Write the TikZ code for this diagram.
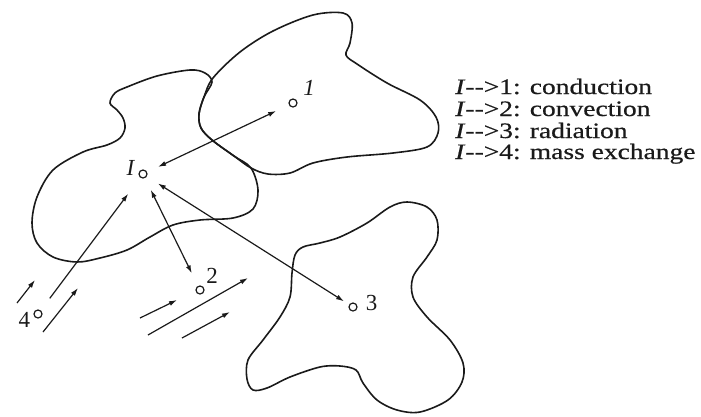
\documentclass[tikz,border=0pt]{standalone}
\usepackage{fontspec}
\setmainfont{Liberation Serif}
\newfontfamily\legendfont{Liberation Serif}[FakeStretch=1.25, FakeBold=0.6]
\usepackage{tikz}
\usetikzlibrary{arrows.meta, positioning}
\definecolor{ink}{HTML}{1A1A1A}
\definecolor{paper}{HTML}{FFFFFF}
\tikzset{
    blob/.style={
        draw=ink, line width=1.6pt
    },
    spot/.style={
        circle, draw=ink, fill=paper, line width=1.2pt,
        inner sep=0pt, minimum size=8pt
    },
    spotlab/.style={
        font=\fontsize{23}{23}\selectfont, text=ink, inner sep=0pt
    },
    heatarrow/.style={
        {Latex[length=8pt,width=5pt]}-{Latex[length=8pt,width=5pt]},
        line width=1.2pt, draw=ink, shorten <=12pt, shorten >=12pt
    },
    inarrow/.style={
        -{Latex[length=8pt,width=5pt]}, line width=1.2pt, draw=ink
    },
    legtext/.style={
        font=\legendfont\fontsize{22}{22}\selectfont, text=ink,
        anchor=base west, inner sep=0pt
    },
}
\begin{document}
\begin{tikzpicture}[x=1pt, y=-1pt]
    \useasboundingbox (0,0) rectangle (701,416);

    % Blob I (left)
    \draw[blob] plot[smooth cycle, tension=0.55] coordinates {
        (110,103) (115,93) (127,87) (157,76) (190,70) (205,73) (212,82)
        (204,97) (199,114) (201,128) (212,140) (234,156) (251,168)
        (258,190) (253,209) (233,218) (200,220) (173,225) (150,237)
        (127,250) (100,258) (77,262) (53,257) (37,243) (32,223) (37,197)
        (53,170) (83,152) (107,145) (120,138) (125,128) (123,118) (117,110)};

    % Blob 1 (top right)
    \draw[blob] plot[smooth cycle, tension=0.55] coordinates {
        (213,78) (240,52) (273,31) (313,15) (343,13) (352,23) (350,43)
        (346,55) (357,64) (387,83) (420,100) (436,117) (438,133) (427,147)
        (393,153) (347,157) (313,163) (290,173) (268,174) (251,168)
        (234,156) (212,140) (201,128) (199,114) (204,97)};

    % Blob 3 (bottom right)
    \draw[blob] plot[smooth cycle, tension=0.55] coordinates {
        (295,255) (303,247) (320,243) (340,237) (367,223) (390,207)
        (407,202) (427,207) (437,220) (437,240) (427,257) (413,277)
        (413,297) (427,317) (450,340) (463,363) (462,382) (448,400)
        (420,412) (397,410) (377,400) (363,383) (356,370) (340,366)
        (320,367) (290,377) (267,388) (253,390) (247,379) (248,360)
        (263,340) (280,317) (290,297) (292,273)};

    % Points
    \node[spot] (pI) at (143,174) {};
    \node[spot] (p1) at (293,103) {};
    \node[spot] (p2) at (200,290) {};
    \node[spot] (p3) at (353,307) {};
    \node[spot] (p4) at (38,314) {};

    % Point labels
    \node[spotlab, left=3pt of pI, yshift=6pt] (lI) {\textit{I}};
    \node[spotlab, above right=4pt and 7pt of p1] (l1) {\textit{1}};
    \node[spotlab, above right=3pt and 3pt of p2] (l2) {2};
    \node[spotlab, right=8pt of p3, yshift=4pt] (l3) {3};
    \node[spotlab, left=3pt of p4, yshift=-6pt] (l4) {4};

    % Exchange arrows
    \draw[heatarrow, shorten >=14pt] (pI) -- (p1);
    \draw[heatarrow, shorten <=13pt, shorten >=14pt] (pI) -- (p2);
    \draw[heatarrow, shorten <=13pt, shorten >=6pt] (pI) -- (p3);
    \draw[inarrow, shorten <=15pt, shorten >=20pt] (p4) -- (pI);

    % Flow arrows
    \coordinate (fa1) at (17,303);  \coordinate (fb1) at (35,280);
    \coordinate (fa2) at (43,332);  \coordinate (fb2) at (78,288);
    \coordinate (fa3) at (140,318); \coordinate (fb3) at (177,300);
    \coordinate (fa4) at (148,335); \coordinate (fb4) at (248,278);
    \coordinate (fa5) at (182,338); \coordinate (fb5) at (230,312);
    \foreach \i in {1,...,5}
        \draw[inarrow] (fa\i) -- (fb\i);

    % Legend
    \node[legtext] (leg1) at (455,94)  {\textit{I}-{}->1: conduction};
    \node[legtext] (leg2) at (455,116) {\textit{I}-{}->2: convection};
    \node[legtext] (leg3) at (455,138) {\textit{I}-{}->3: radiation};
    \node[legtext] (leg4) at (455,159) {\textit{I}-{}->4: mass exchange};

\end{tikzpicture}
\end{document}
